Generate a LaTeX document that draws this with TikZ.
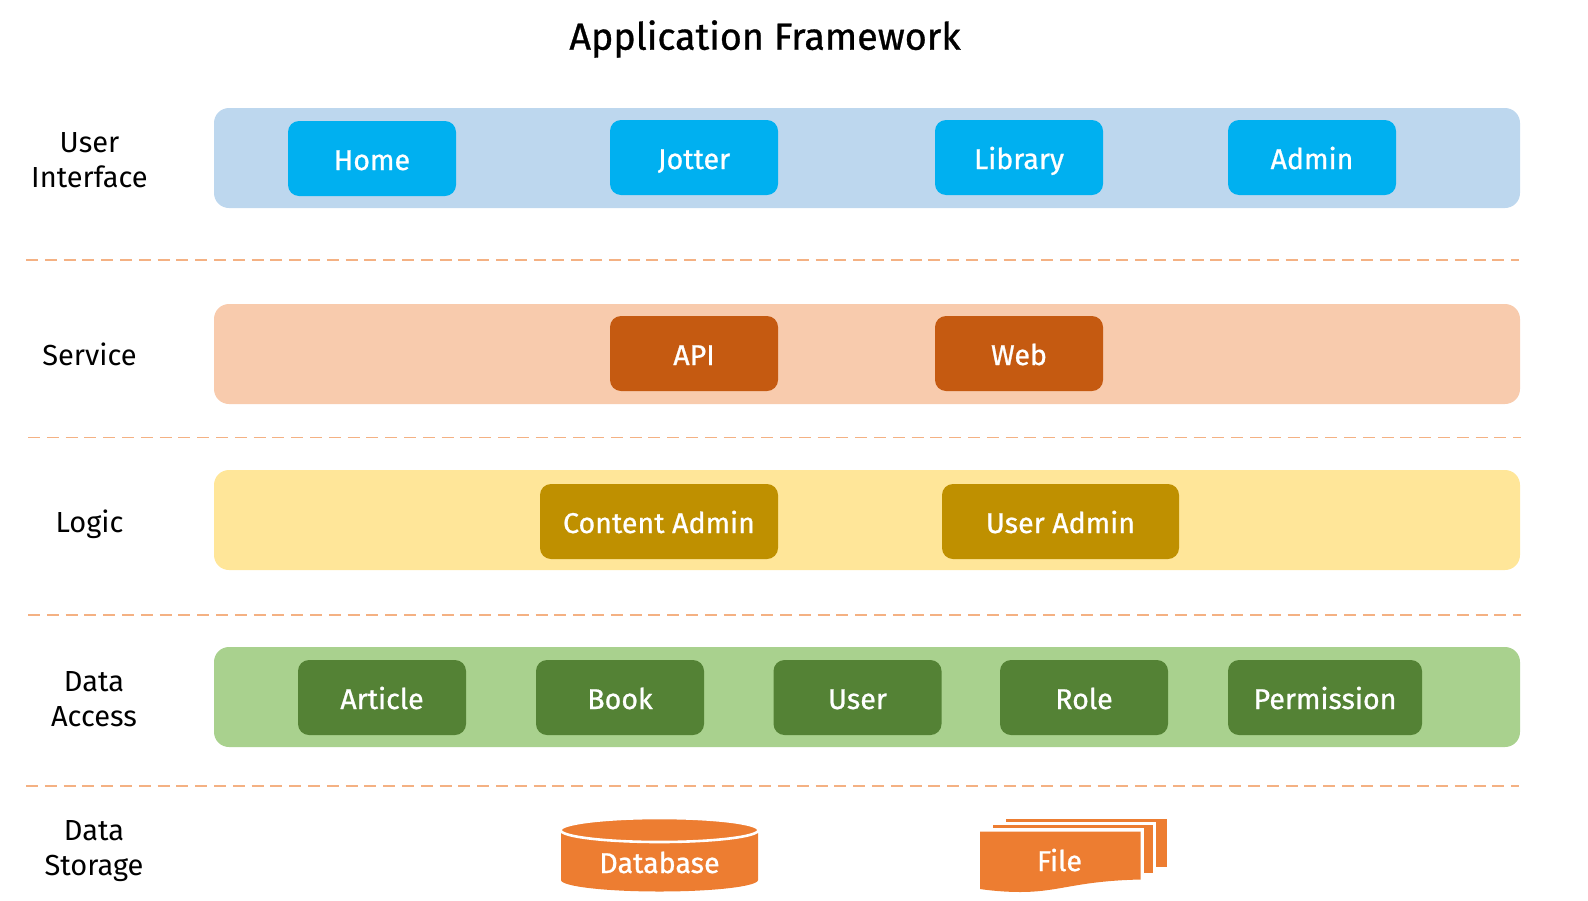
\documentclass[tikz,border=0pt]{standalone}
\usepackage{fontspec}
\setmainfont{Fira Sans}[BoldFont=Fira Sans, BoldFeatures={FakeBold=0.8}]
\usetikzlibrary{arrows.meta, calc, positioning}

\definecolor{uiband}{HTML}{BDD7EE}
\definecolor{uiitem}{HTML}{00B0F0}
\definecolor{svcband}{HTML}{F8CBAD}
\definecolor{svcitem}{HTML}{C55A11}
\definecolor{logicband}{HTML}{FFE699}
\definecolor{logicitem}{HTML}{BF9000}
\definecolor{databand}{HTML}{A9D18E}
\definecolor{dataitem}{HTML}{548235}
\definecolor{storefill}{HTML}{ED7D31}
\definecolor{sepline}{HTML}{F4B183}

\tikzset{
  band/.style={fill=#1, rounded corners=15pt, minimum width=1306pt, minimum height=100pt, inner sep=0pt},
  storetext/.style={text=white, text height=23pt, text depth=0pt, inner sep=0pt,
    font=\fontsize{28.6}{30}\bfseries},
  item/.style={storetext, fill=#1, rounded corners=11pt, minimum width=168pt, minimum height=75pt},
  layerlabel/.style={align=center, text=black, font=\fontsize{29}{35}\selectfont},
  sep/.style={sepline, line width=1.8pt, dash pattern=on 12pt off 6.8pt}
}

\begin{document}
\begin{tikzpicture}[x=1pt, y=-1pt]
\useasboundingbox (0,0) rectangle (1588,900);

% Title
\node[font=\fontsize{37.7}{40}\bfseries] (title) at (765,39) {Application Framework};

% Layer names on the left
\node[layerlabel] (lblui) at (89.5,160) {User\\Interface};
\node[layerlabel] (lblsvc) at (89.5,354) {Service};
\node[layerlabel] (lbllogic) at (89.5,524) {Logic};
\node[layerlabel] (lbldata) at (94,699) {Data\\Access};
\node[layerlabel] (lblstore) at (94,851.5) {Data\\Storage};

% Coloured bands
\node[band=uiband] (bandui) at (867,158) {};
\node[band=svcband] (bandsvc) at (867,354) {};
\node[band=logicband] (bandlogic) at (867,520) {};
\node[band=databand] (banddata) at (867,697) {};

% User interface
\node[item=uiitem] (home) at (372,158.5) {Home};
\node[item=uiitem] (jotter) at (694,157.5) {Jotter};
\node[item=uiitem] (library) at (1019,157.5) {Library};
\node[item=uiitem] (admin) at (1312,157.5) {Admin};

% Service
\node[item=svcitem] (api) at (694,353.5) {API};
\node[item=svcitem] (web) at (1019,353.5) {Web};

% Logic
\node[item=logicitem, minimum width=238pt] (contentadmin) at (659,521.5) {Content Admin};
\node[item=logicitem, minimum width=237pt] (useradmin) at (1060.5,521.5) {User Admin};

% Data access
\node[item=dataitem] (article) at (382,697.5) {Article};
\node[item=dataitem] (book) at (620,697.5) {Book};
\node[item=dataitem] (user) at (857.5,697.5) {User};
\node[item=dataitem] (role) at (1084,697.5) {Role};
\node[item=dataitem, minimum width=194pt] (permission) at (1325,697.5) {Permission};

% Dashed separators
\coordinate (s1a) at (26,260);
\coordinate (s1b) at (1519,260);
\coordinate (s2a) at (28,437.5);
\coordinate (s2b) at (1521,437.5);
\coordinate (s3a) at (28,615);
\coordinate (s3b) at (1521,615);
\coordinate (s4a) at (26,786);
\coordinate (s4b) at (1519,786);
\draw[sep] (s1a) -- (s1b);
\draw[sep] (s2a) -- (s2b);
\draw[sep] (s3a) -- (s3b);
\draw[sep] (s4a) -- (s4b);

% Database cylinder
\fill[storefill] (561,833) -- (758,833) -- (758,880)
  arc[start angle=0, end angle=-180, x radius=98.5pt, y radius=11.5pt] -- cycle;
\draw[fill=storefill, draw=white, line width=2.6pt] (659.5,830) ellipse [x radius=99pt, y radius=12pt];
\node[storetext] (database) at (659.5,861.5) {Database};

% File stack
\fill[storefill] (1006,819) rectangle (1167,866.5);
\fill[white] (1002,822) rectangle (1156,873);
\fill[storefill] (993,825) rectangle (1153,873);
\fill[white] (989,828) rectangle (1143.5,880);
\fill[storefill] (980,831.5) -- (1140.5,831.5) -- (1140.5,879.5)
  .. controls (1075,881) and (1060,892) .. (1020,892)
  .. controls (1005,892) and (990,890.5) .. (980,889) -- cycle;
\node[storetext] (file) at (1059.5,859.5) {File};

\end{tikzpicture}
\end{document}
